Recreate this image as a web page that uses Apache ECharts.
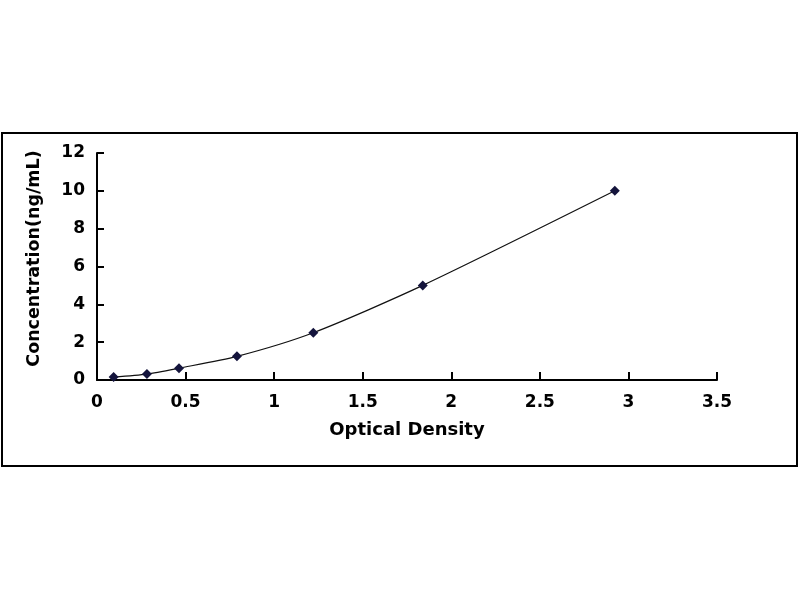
<!DOCTYPE html>
<html>
<head>
<meta charset="utf-8">
<script src="https://cdn.jsdelivr.net/npm/echarts@6/dist/echarts.min.js"></script>
<style>html,body{margin:0;padding:0;background:#fff}#c{width:800px;height:600px}</style>
</head>
<body>
<div id="c"></div>
<script>
var opticalDensity = [0.094, 0.282, 0.463, 0.790, 1.221, 1.839, 2.923];
var concentration = [0.156, 0.312, 0.625, 1.25, 2.5, 5, 10];
var xTicks = [0, 0.5, 1, 1.5, 2, 2.5, 3, 3.5];
var yTicks = [0, 2, 4, 6, 8, 10, 12];

var points = opticalDensity.map(function (x, i) { return [x, concentration[i]]; });
var font = 'DejaVu Sans';
var chart = echarts.init(document.getElementById('c'));
chart.setOption({
  backgroundColor: '#fff',
  animation: false,
  graphic: [{
    type: 'rect',
    shape: { x: 2, y: 133, width: 795, height: 333 },
    style: { fill: 'none', stroke: '#000', lineWidth: 2 },
    silent: true
  }],
  grid: { left: 97, right: 83, top: 153, bottom: 220, containLabel: false },
  xAxis: {
    type: 'value',
    min: xTicks[0], max: xTicks[xTicks.length - 1], interval: 0.5,
    name: 'Optical Density',
    nameLocation: 'middle',
    nameGap: 41,
    nameTextStyle: { fontFamily: font, fontWeight: 'bold', fontSize: 18, color: '#000' },
    axisLine: { onZero: false, lineStyle: { color: '#000', width: 2 } },
    axisTick: { inside: true, length: 8, lineStyle: { color: '#000', width: 2 } },
    axisLabel: { margin: 14, fontFamily: font, fontWeight: 'bold', fontSize: 17, color: '#000' },
    splitLine: { show: false }
  },
  yAxis: {
    type: 'value',
    min: yTicks[0], max: yTicks[yTicks.length - 1], interval: 2,
    name: 'Concentration(ng/mL)',
    nameLocation: 'middle',
    nameGap: 54,
    nameRotate: 90,
    nameTextStyle: { fontFamily: font, fontWeight: 'bold', fontSize: 17.5, color: '#000', padding: [0, 0, 0, 16] },
    axisLine: { show: true, lineStyle: { color: '#000', width: 2 } },
    axisTick: { show: true, inside: true, length: 7, lineStyle: { color: '#000', width: 2 } },
    axisLabel: { margin: 12, fontFamily: font, fontWeight: 'bold', fontSize: 17, color: '#000' },
    splitLine: { show: false }
  },
  series: [{
    type: 'line',
    data: points,
    smooth: 0.25,
    symbol: 'diamond',
    symbolSize: 10,
    itemStyle: { color: '#14143c' },
    lineStyle: { color: '#111', width: 1.2 }
  }]
});
</script>
</body>
</html>
